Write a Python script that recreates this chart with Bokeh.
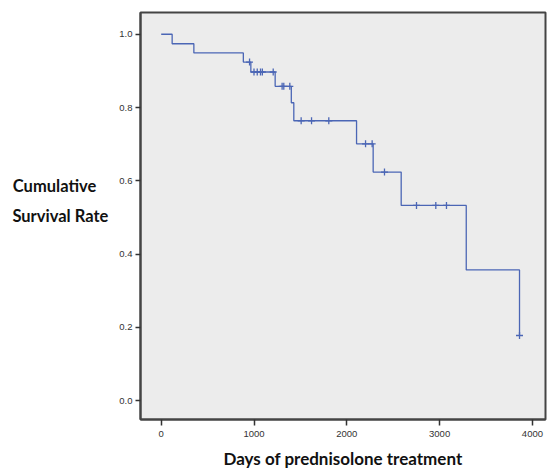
from bokeh.plotting import figure
from bokeh.models import Range1d, FixedTicker, CustomJSTickFormatter
from bokeh.embed import file_html
from bokeh.resources import INLINE

# Kaplan-Meier step data (event times and survival after each event)
event_days = [0, 118, 352, 885, 966, 1228, 1402, 1429, 2105, 2284, 2586, 3287, 3861]
survival = [1.0, 0.974, 0.949, 0.924, 0.897, 0.858, 0.813, 0.764, 0.701, 0.624, 0.533, 0.357, 0.178]

# Censored observations
censor_days = [952, 1000, 1035, 1070, 1090, 1207, 1303, 1321, 1386,
               1508, 1620, 1806, 2202, 2273, 2406, 2751, 2959, 3074, 3861]
censor_surv = [0.924, 0.897, 0.897, 0.897, 0.897, 0.897, 0.858, 0.858, 0.858,
               0.764, 0.764, 0.764, 0.701, 0.701, 0.624, 0.533, 0.533, 0.533, 0.178]

x_ticks = [0, 1000, 2000, 3000, 4000]
y_ticks = [0.0, 0.2, 0.4, 0.6, 0.8, 1.0]

BLUE = "#4b66b5"

p = figure(width=549, height=471, output_backend="svg", toolbar_location=None,
           x_range=Range1d(-223, 4141), y_range=Range1d(-0.0512, 1.0593),
           min_border_left=140, min_border_right=4, min_border_top=12, min_border_bottom=47)

p.border_fill_color = "white"
p.background_fill_color = "#ececec"
p.outline_line_color = "#444444"
p.outline_line_width = 2
p.outline_line_alpha = 1.0
p.grid.visible = False

p.step(event_days, survival, mode="after", line_color=BLUE, line_width=1.3)
p.scatter(censor_days, censor_surv, marker="cross", size=7, line_color=BLUE, line_width=1.3)

for ax in (p.xaxis[0], p.yaxis[0]):
    ax.axis_line_color = "#444444"
    ax.axis_line_width = 2
    ax.major_tick_line_color = "#333333"
    ax.major_tick_line_width = 1.5
    ax.major_tick_in = 0
    ax.minor_tick_line_color = None
    ax.major_label_text_font = "Liberation Sans"
    ax.major_label_text_font_size = "9.5px"
    ax.major_label_text_color = "#333333"

p.xaxis.ticker = FixedTicker(ticks=x_ticks)
p.yaxis.ticker = FixedTicker(ticks=y_ticks)
p.yaxis.formatter = CustomJSTickFormatter(code="return tick.toFixed(1);")
p.xaxis.major_tick_out = 6
p.yaxis.major_tick_out = 5
p.xaxis.major_label_standoff = 5
p.yaxis.major_label_standoff = 3

p.xaxis.axis_label = "Days of prednisolone treatment"
p.xaxis.axis_label_text_font = "Lato"
p.xaxis.axis_label_text_font_style = "bold"
p.xaxis.axis_label_text_font_size = "17px"
p.xaxis.axis_label_text_color = "#111111"
p.xaxis.axis_label_standoff = 8

p.yaxis.axis_label = "Cumulative\u00a0\u00a0\u00a0\nSurvival Rate\n\u00a0"
p.yaxis.axis_label_orientation = "horizontal"
p.yaxis.axis_label_text_font = "Lato"
p.yaxis.axis_label_text_font_style = "bold"
p.yaxis.axis_label_text_font_size = "16.5px"
p.yaxis.axis_label_text_color = "#111111"
p.yaxis.axis_label_text_line_height = 1.5
p.yaxis.axis_label_standoff = 8

open("out.html", "w").write(file_html(p, INLINE))
